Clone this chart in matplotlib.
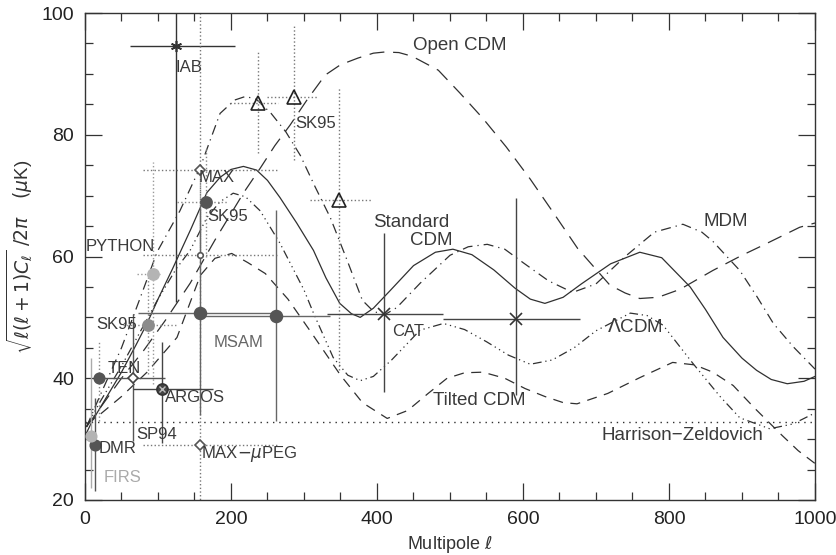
import matplotlib
matplotlib.use('Agg')
import matplotlib.pyplot as plt

plt.rcParams['font.family'] = ['Liberation Sans', 'DejaVu Sans']
plt.rcParams['mathtext.fontset'] = 'dejavusans'

# ---------------- model curves (multipole l, amplitude in uK) ----------------
scdm_l = [2, 10, 20, 30, 50, 70, 85, 100, 120, 145, 167, 185, 200, 217, 235, 250, 267, 290, 313, 330, 349, 365,
          377, 395, 418, 450, 480, 504, 530, 560, 589, 610, 630, 655, 680, 720, 760, 790, 829, 850, 874, 900, 920,
          940, 962, 985, 1000]
scdm_v = [31, 33, 35, 37, 41, 45.5, 49, 53, 58, 64.5, 70.5, 73, 74.3, 74.8, 74.2, 72.5, 69.7, 65.5, 61, 56.5, 52.3, 50.6,
          50, 51.5, 54.4, 58.5, 60.7, 61.2, 60.3, 57.8, 54.8, 53, 52.3, 53.3, 55.5, 58.8, 60.7, 59.8, 55, 51.3, 46.7, 43.3, 41.3,
          39.8, 39.1, 39.5, 40.3]

ocdm_l = [2, 20, 50, 80, 110, 144, 178, 218, 240, 260, 281, 304, 329, 350, 374, 395, 411, 430, 448, 470, 484, 514,
          545, 577, 610, 641, 675, 719, 740, 760, 785, 815, 860, 900, 928, 979, 1000]
ocdm_v = [32, 35, 40, 44.5, 49.5, 55.6, 62.7, 70.6, 74.5, 78.2, 81.6, 85.7, 89.8, 91.5, 92.6, 93.4, 93.6, 93.5, 92.9, 91.5, 90.6, 86.8,
          82.7, 78, 72.7, 67.3, 61.3, 55.3, 54, 53.1, 53.3, 54.6, 57.7, 60.2, 61.8, 64.8, 65.5]

tcdm_l = [2, 20, 50, 85, 126, 158, 178, 201, 223, 247, 278, 310, 350, 380, 414, 442, 470, 496, 520, 545, 575, 603,
          630, 655, 674, 716, 760, 805, 835, 860, 888, 918, 955, 977, 1000]
tcdm_v = [32.5, 34, 37, 41, 46.7, 56.9, 59.7, 60.5, 59, 57.2, 53, 47.5, 40.5, 36, 33.4, 34.7, 37.5, 40, 40.9, 41, 40, 38.3,
          37, 36, 35.8, 37.5, 40.1, 42.6, 42.2, 41, 38.8, 35, 30.6, 28.1, 26]

mdm_l = [2, 20, 50, 75, 99, 130, 158, 185, 205, 220, 235, 255, 275, 295, 315, 336, 359, 380, 395, 410, 427, 459,
         500, 525, 551, 575, 600, 635, 668, 700, 740, 780, 819, 845, 860, 897, 920, 943, 970, 996, 1000]
mdm_v = [32, 37, 45, 53, 60.8, 67.5, 74.7, 83.5, 85.7, 86.3, 85.8, 83.5, 80.5, 76.6, 71.5, 66.4, 59.4, 52.8, 51, 50.4, 51.6, 55.6,
         60.2, 61.6, 62, 61.2, 59, 56, 54.1, 55.5, 60, 64, 65.3, 64, 62.5, 57.7, 53.5, 49, 45.2, 42, 41.5]

lcdm_l = [2, 20, 50, 75, 100, 125, 144, 167, 185, 203, 220, 240, 267, 300, 313, 340, 360, 377, 395, 420, 459, 491,
          520, 550, 580, 610, 640, 670, 700, 747, 770, 792, 833, 870, 897, 938, 970, 1000]
lcdm_v = [32, 36, 42, 47.5, 53, 58, 61, 66.4, 69, 70.4, 69.8, 67.5, 62.2, 54.5, 50.7, 43.4, 40.5, 39.6, 40.3, 43, 47.9, 49,
          48, 46, 43.8, 42.3, 43, 45, 47.8, 50.7, 50.3, 48.7, 42.4, 37, 33.5, 31.7, 32.5, 34.3]

hz_l = [0, 1000]
hz_v = [32.8, 32.8]

# ---------------- experimental band powers ----------------
pt_name = ['IAB', 'SK95a', 'SK95b', 'SK95c', 'MAX', 'MAXb', 'MAX-uPEG', 'SK95d', 'PYTHON', 'SK95e',
           'MSAMa', 'MSAMb', 'TEN', 'SP94', 'ARGOS', 'DMR', 'FIRS', 'CATa', 'CATb']
pt_l = [125, 237, 286, 348, 157, 157, 157, 166, 93, 86, 158, 262, 19, 66, 105, 14, 8, 410, 590]
pt_v = [94.6, 85.2, 86.2, 69.2, 74.2, 60.2, 29.1, 68.9, 57.1, 48.7, 50.8, 50.2, 40, 40, 38.3, 29.1, 30.5, 50.6, 49.7]
pt_l_lo = [62, 199, 249, 308, 79, 79, 79, 126, 71, 52, 73, 160, 13, 20, 66, 8, 2, 331, 490]
pt_l_hi = [205, 264, 318, 393, 263, 263, 263, 195, 103, 126, 262, 335, 27, 110, 175, 20, 14, 490, 678]
pt_v_lo = [52.5, 77, 75.8, 41.3, 60, 47, 17, 60, 39, 40.7, 34, 33, 33, 29.7, 29.3, 21.5, 22, 37.7, 37.2]
pt_v_hi = [137, 94, 98, 87.8, 102, 73, 47, 78, 75.5, 56.7, 68, 67.6, 46, 50.5, 46, 36.8, 43.4, 63.8, 69.6]

# ---------------- text labels ----------------
model_text = ['Open CDM', 'Standard', 'CDM', 'MDM', r'$\Lambda$CDM', 'Tilted CDM', 'Harrison\u2212Zeldovich']
model_l = [514, 447, 475, 878, 753, 540, 818]
model_v = [94.7, 65.6, 62.7, 65.8, 48.5, 36.3, 30.6]

data_text = ['IAB', 'SK95', 'MAX', 'SK95', 'PYTHON', 'SK95', 'MSAM', 'CAT', 'TEN', 'ARGOS', 'SP94', 'DMR',
             r'MAX$-\mu$PEG', 'FIRS']
data_l = [143, 316, 181, 196, 48, 44, 210, 442, 54, 151, 98, 45, 225, 52]
data_v = [91.1, 81.9, 73, 66.6, 61.7, 48.8, 45.9, 47.7, 41.6, 36.8, 30.8, 28.5, 27.5, 23.7]

# ---------------- styling ----------------
W, H = 837, 555
fig = plt.figure(figsize=(W / 100, H / 100), dpi=100)
ax = fig.add_axes([85 / W, 1 - 500 / H, 730 / W, 487 / H])

LC = '#303030'
ax.plot(scdm_l, scdm_v, color=LC, lw=0.9, ls='-')
ax.plot(ocdm_l, ocdm_v, color=LC, lw=0.9, ls=(0, (12, 7)))
ax.plot(tcdm_l, tcdm_v, color=LC, lw=0.9, ls=(0, (8, 6)))
ax.plot(mdm_l, mdm_v, color=LC, lw=0.9, ls=(0, (8, 4, 1, 4)))
ax.plot(lcdm_l, lcdm_v, color=LC, lw=0.9, ls=(0, (7, 3, 1, 3, 1, 3, 1, 3)))
ax.plot(hz_l, hz_v, color=LC, lw=1.0, ls=(0, (1, 3.5)))

dark, mid, light = '#555555', '#8c8c8c', '#b4b4b4'
# marker, face, edge, size, errorbar color, errorbar linestyle
styles = {
    'IAB': ((6, 2, 0), 'none', '#333333', 8, '#333333', '-'),
    'SK95a': ('^', 'none', '#222222', 10, '#777777', ':'),
    'SK95b': ('^', 'none', '#222222', 10, '#777777', ':'),
    'SK95c': ('^', 'none', '#222222', 10, '#777777', ':'),
    'MAX': ('D', 'white', '#555555', 5.5, '#777777', ':'),
    'MAXb': ('o', 'white', '#555555', 4, '#777777', ':'),
    'MAX-uPEG': ('D', 'white', '#555555', 5.5, '#777777', ':'),
    'SK95d': ('o', dark, dark, 8, '#888888', ':'),
    'PYTHON': ('o', light, light, 8, '#999999', ':'),
    'SK95e': ('o', mid, mid, 8, '#888888', ':'),
    'MSAMa': ('o', dark, dark, 8.5, '#666666', '-'),
    'MSAMb': ('o', dark, dark, 8.5, '#666666', '-'),
    'TEN': ('o', dark, dark, 7.5, '#888888', ':'),
    'SP94': ('D', 'white', '#444444', 5.5, '#555555', '-'),
    'ARGOS': ('o', '#444444', '#333333', 8, '#444444', '-'),
    'DMR': ('o', dark, dark, 7.5, '#555555', '-'),
    'FIRS': ('o', light, light, 7.5, '#aaaaaa', '-'),
    'CATa': ('x', 'none', '#333333', 8, '#444444', '-'),
    'CATb': ('x', 'none', '#333333', 8, '#444444', '-'),
}

for i, name in enumerate(pt_name):
    mk, fc, ec, ms, bc, bls = styles[name]
    l, v = pt_l[i], pt_v[i]
    xe = [[l - pt_l_lo[i]], [pt_l_hi[i] - l]]
    ye = [[v - pt_v_lo[i]], [pt_v_hi[i] - v]]
    eb = ax.errorbar([l], [v], xerr=xe, yerr=ye, fmt='none', ecolor=bc, elinewidth=1.0, capsize=0, zorder=2)
    for c in eb[2]:
        c.set_linestyle(bls)
    ax.plot([l], [v], marker=mk, ms=ms, mfc=fc, mec=ec, mew=1.2, ls='none', zorder=4)
    if name == 'ARGOS':
        ax.plot([l], [v], marker='x', ms=4.5, mec='#bbbbbb', mew=1.0, ls='none', zorder=5)

TC = '#3a3a3a'
for t, l, v in zip(model_text, model_l, model_v):
    ax.text(l, v, t, fontsize=13.5, color=TC, ha='center', va='center', zorder=6)
lab_color = {'FIRS': '#aaaaaa', 'MSAM': '#666666'}
for t, l, v in zip(data_text, data_l, data_v):
    ax.text(l, v, t, fontsize=12, color=lab_color.get(t, TC), ha='center', va='center', zorder=6)

ax.set_xlim(0, 1000)
ax.set_ylim(20, 100)
ax.set_xticks([0, 200, 400, 600, 800, 1000])
ax.set_xticks(range(0, 1001, 50), minor=True)
ax.set_yticks([20, 40, 60, 80, 100])
ax.set_yticks(range(20, 101, 5), minor=True)
ax.tick_params(which='both', direction='in', top=True, right=True, colors='#333333',
               labelsize=14, labelcolor='#222222', width=0.9)
ax.tick_params(which='major', length=12, pad=8)
ax.tick_params(which='minor', length=6)
for s in ax.spines.values():
    s.set_color('#333333')
    s.set_linewidth(1.0)

ax.set_xlabel(r'Multipole $\ell$', fontsize=13, color='#333333', labelpad=4)
ax.set_ylabel(r'$\sqrt{\ell(\ell+1)C_\ell}\ /2\pi\ \ \ (\mu$K)', fontsize=13.5, color='#333333')
ax.yaxis.set_label_coords(-0.068, 0.5)

fig.savefig('out.png', dpi=100)
